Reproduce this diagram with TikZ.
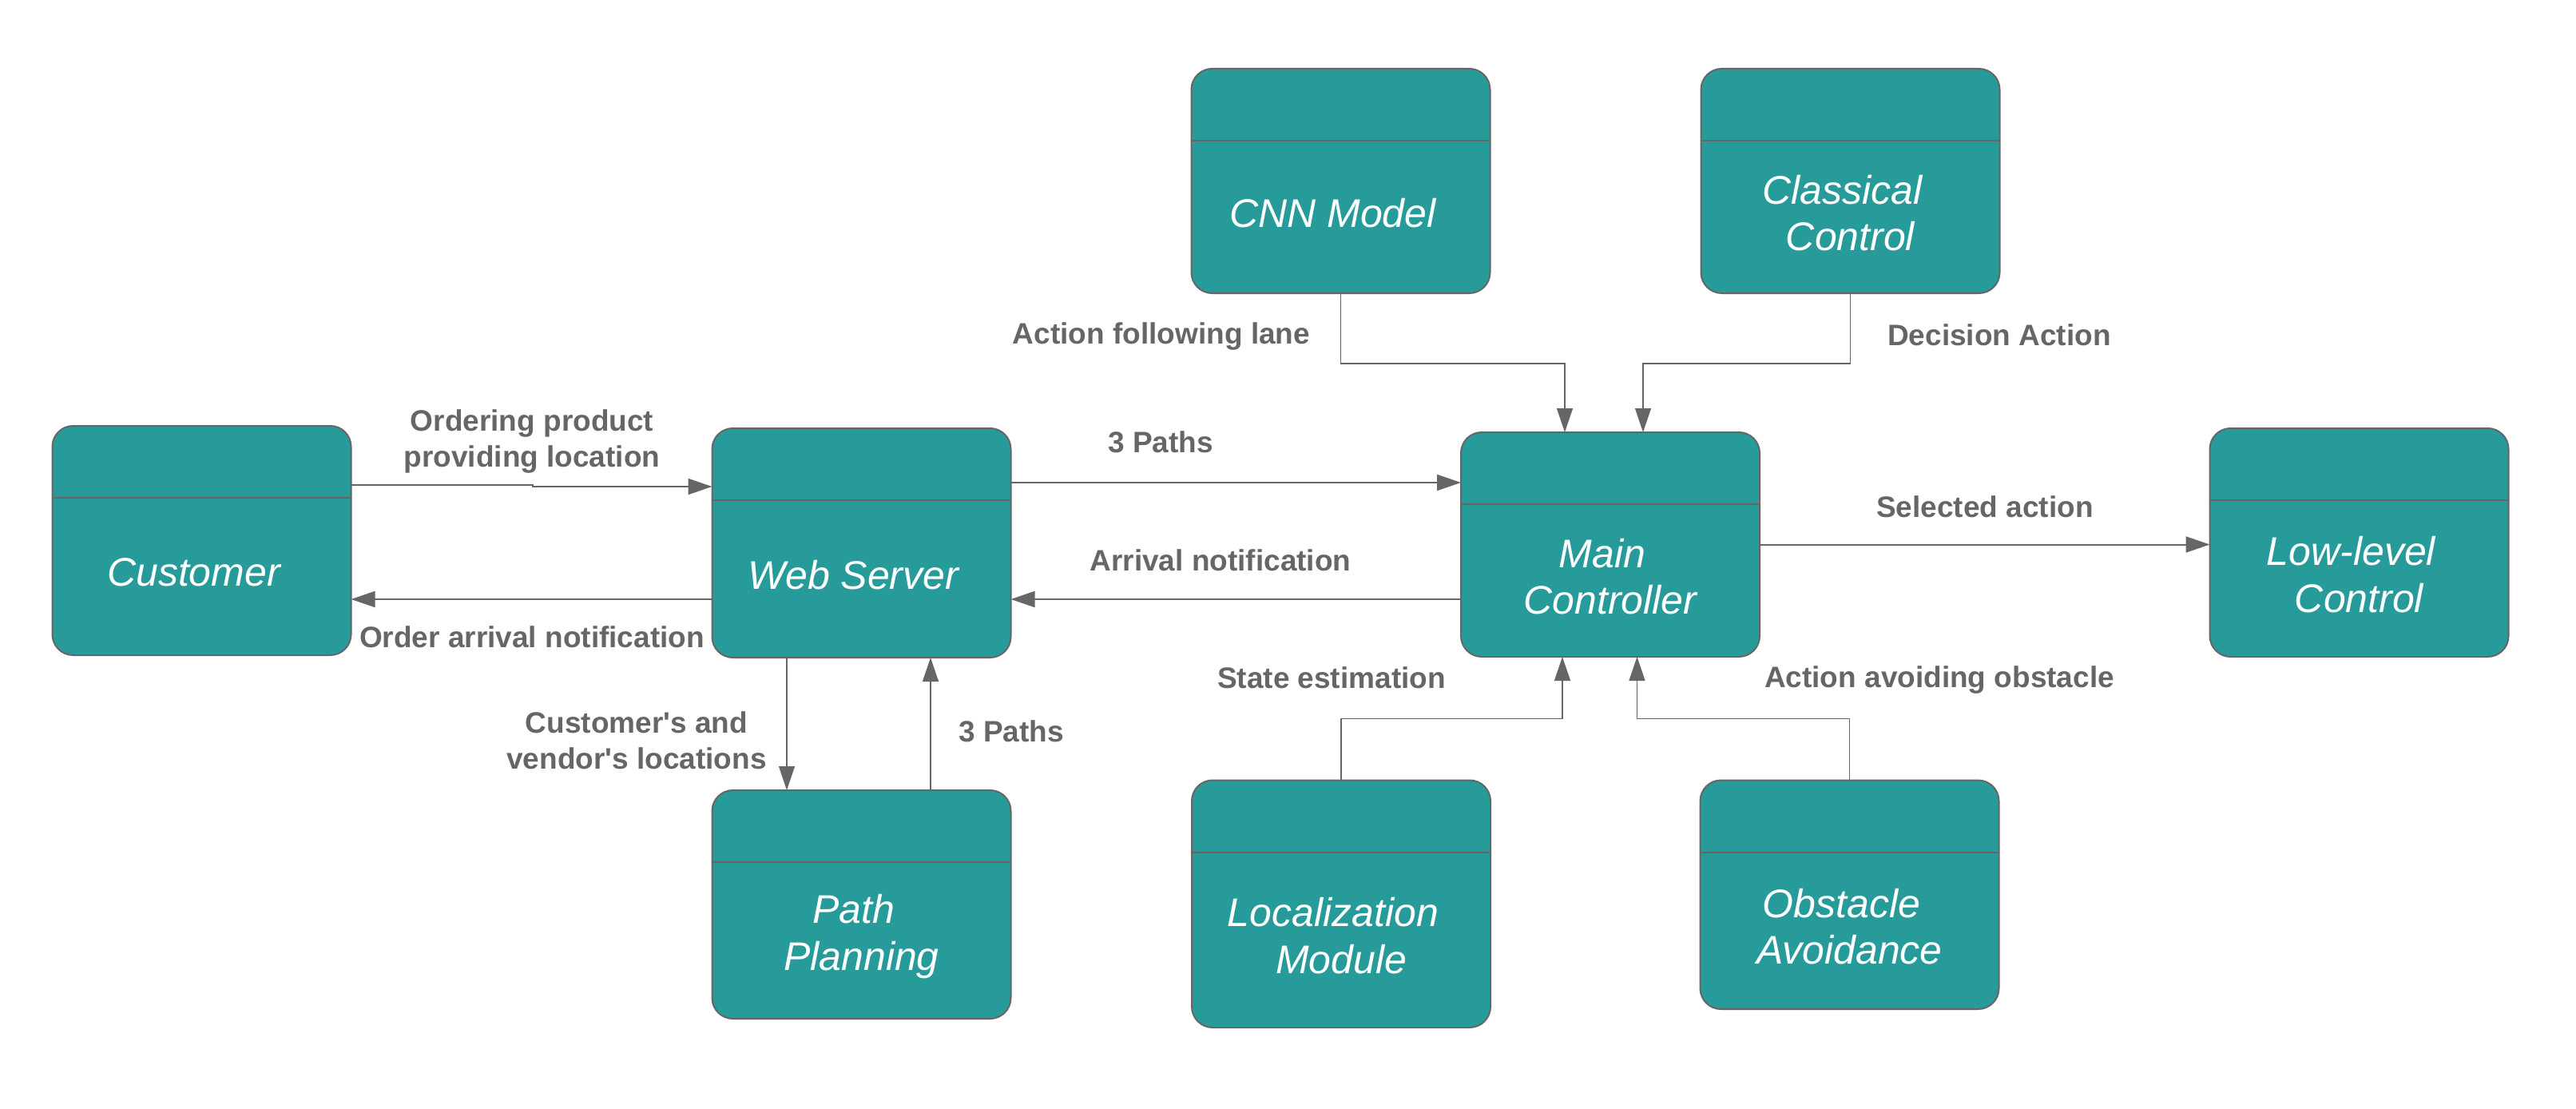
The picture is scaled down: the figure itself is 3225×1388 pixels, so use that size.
\documentclass[tikz,border=0pt]{standalone}
\usepackage{fontspec}
\setmainfont{Liberation Sans}
\usetikzlibrary{arrows.meta,calc}
\definecolor{tealfill}{RGB}{38,155,154}
\definecolor{edgegray}{HTML}{666666}
\definecolor{labgray}{HTML}{666666}
\tikzset{
  block/.style={draw=edgegray, fill=tealfill, rounded corners=26pt, line width=2pt,
    minimum width=374pt, inner sep=0pt, outer sep=0pt},
  divline/.style={draw=edgegray, line width=2pt},
  blocktext/.style={text=white, font=\fontsize{50}{58.5}\selectfont\itshape, align=center, inner sep=0pt, yshift=5pt},
  lab/.style={text=labgray, font=\fontsize{37}{45}\selectfont\bfseries, align=center, inner sep=0pt},
  conn/.style={draw=edgegray, line width=2pt, -{Triangle[width=20pt,length=30pt]}},
  thinconn/.style={conn, line width=1.3pt},
}
\newcommand{\drawblock}[5]{%
  \node[block, minimum height=#4pt] (#1) at (#2,#3) {};
  \draw[divline] ([yshift=-90pt]#1.north west) -- ([yshift=-90pt]#1.north east);
  \node[blocktext] (#1-t) at ($([yshift=-90pt]#1.north)!0.5!(#1.south)$) {#5};
}
\begin{document}
\begin{tikzpicture}[x=1pt,y=-1pt]
\useasboundingbox[fill=white] (0,0) rectangle (3225,1388);

% blocks
\drawblock{cust}{252.5}{676.5}{287}{Customer\kern20pt}
\drawblock{web}{1078.5}{679.5}{287}{Web Server\kern20pt}
\drawblock{path}{1078.5}{1132}{286}{Path\kern20pt\\Planning}
\drawblock{cnn}{1678.5}{226.5}{281}{CNN Model\kern20pt}
\drawblock{cls}{2316.5}{226.5}{281}{Classical\kern20pt\\Control}
\drawblock{main}{2016}{681.5}{281}{Main\kern20pt\\Controller}
\drawblock{low}{2953.5}{679}{286}{Low-level\kern20pt\\Control}
\drawblock{loc}{1679}{1131.25}{309.5}{Localization\kern20pt\\Module}
\drawblock{obs}{2315.5}{1119.75}{286.5}{Obstacle\kern20pt\\Avoidance}

% connectors
\draw[conn] ([yshift=69.5pt]cust.east) -- ++(227,0) |- ([yshift=70.5pt]web.west);
\draw[conn] ([yshift=-70.5pt]web.west) -- ([yshift=-73.5pt]cust.east);
\draw[conn] ([yshift=75.5pt]web.east) -- ([yshift=77.5pt]main.west);
\draw[conn] ([yshift=-68.5pt]main.west) -- ([yshift=-70.5pt]web.east);
\draw[conn] (main.east) -- (main.east -| low.west);
\draw[thinconn] ([xshift=-93.5pt]web.south) -- ([xshift=-93.5pt]path.north);
\draw[thinconn] ([xshift=86.5pt]path.north) -- ([xshift=86.5pt]web.south);
\draw[thinconn] (cnn.south) -- ++(0,88) -| ([xshift=-57pt]main.north);
\draw[thinconn] (cls.south) -- ++(0,88) -| ([xshift=41pt]main.north);
\draw[conn, line width=1.6pt] (loc.north) -- ++(0,-77) -| ([xshift=-60pt]main.south);
\draw[conn, line width=1.6pt] (obs.north) -- ++(0,-77) -| ([xshift=33.5pt]main.south);

% labels
\node[lab] (l1) at (666,553) {Ordering product\\providing location};
\node[lab] (l2) at (666,797) {Order arrival notification};
\node[lab] (l3) at (1453,553) {3 Paths};
\node[lab] (l4) at (1528,701) {Arrival notification};
\node[lab] (l5) at (1454,421) {Action following lane};
\node[lab] (l6) at (2503,419) {Decision Action};
\node[lab] (l7) at (2485,634) {Selected action};
\node[lab] (l8) at (1667,848) {State estimation};
\node[lab] (l9) at (2428,851) {Action avoiding obstacle};
\node[lab] (l10) at (797,927) {Customer\textquotesingle s and\\vendor\textquotesingle s locations};
\node[lab] (l11) at (1266,915) {3 Paths};
\end{tikzpicture}
\end{document}
